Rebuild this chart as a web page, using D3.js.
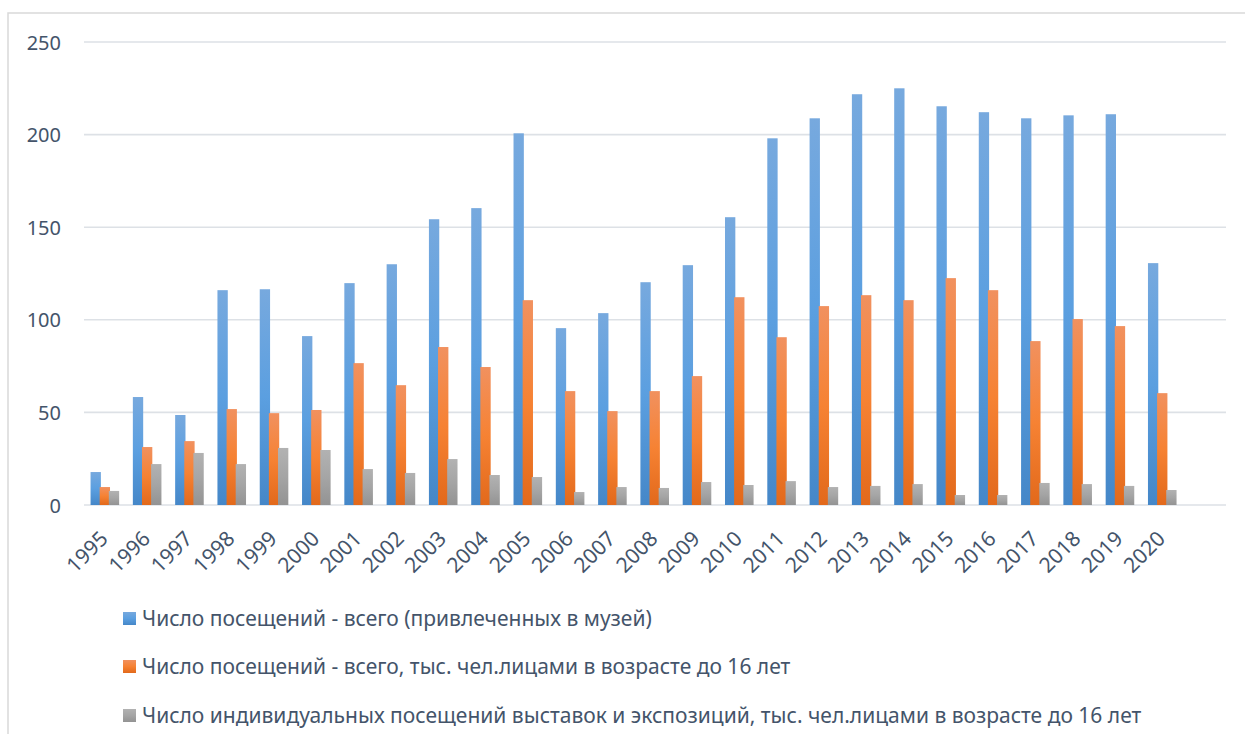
<!DOCTYPE html>
<html>
<head>
<meta charset="utf-8">
<script src="https://cdn.jsdelivr.net/npm/d3@7"></script>
<style>
  html, body { margin: 0; padding: 0; background: #ffffff; }
  svg { display: block; }
  text { font-family: "Noto Sans", sans-serif; fill: #44546a; }
</style>
</head>
<body>
<svg id="chart" width="1245" height="734"></svg>
<script>
// ---- data ----
const years = ["1995","1996","1997","1998","1999","2000","2001","2002","2003","2004","2005","2006","2007",
  "2008","2009","2010","2011","2012","2013","2014","2015","2016","2017","2018","2019","2020"];
const seriesNames = [
  "Число посещений - всего (привлеченных в музей)",
  "Число посещений - всего, тыс. чел.лицами в возрасте до 16 лет",
  "Число индивидуальных посещений выставок и экспозиций, тыс. чел.лицами в возрасте до 16 лет"
];
const totalVisits = [17.8,58.3,48.6,116.0,116.5,91.2,119.8,130.0,154.3,160.3,200.7,95.5,103.6,
  120.3,129.5,155.4,198.0,208.8,221.8,225.0,215.3,212.1,208.8,210.4,211.0,130.6];
const visitsUnder16 = [9.7,31.3,34.5,51.8,49.6,51.3,76.6,64.7,85.3,74.5,110.6,61.5,50.7,
  61.5,69.6,112.2,90.6,107.4,113.3,110.6,122.5,116.0,88.5,100.4,96.6,60.4];
const individualUnder16 = [7.6,22.1,28.1,22.1,30.8,29.7,19.4,17.3,24.8,16.2,15.1,7.0,9.7,
  9.2,12.4,10.8,12.9,9.7,10.3,11.3,5.4,5.4,11.9,11.3,10.3,8.1];
const yTicks = [0,50,100,150,200,250];
// Excel category axis holds one extra empty category after 2020
const extraCategory = [""];

const seriesValues = [totalVisits, visitsUnder16, individualUnder16];
const gradients = [
  ["#77a9de", "#5b9fe0", "#4587c8"],
  ["#f1915f", "#f68233", "#e2691b"],
  ["#b2b2b2", "#a5a5a5", "#939393"]
];

const svg = d3.select("#chart");
const W = 1245, H = 734;
const plot = { left: 84, right: 1226, top: 42, bottom: 505 };

// gradients
const defs = svg.append("defs");
gradients.forEach((g, i) => {
  const lg = defs.append("linearGradient").attr("id", "grad" + i)
    .attr("x1", 0).attr("y1", 0).attr("x2", 0).attr("y2", 1);
  lg.append("stop").attr("offset", "0%").attr("stop-color", g[0]);
  lg.append("stop").attr("offset", "50%").attr("stop-color", g[1]);
  lg.append("stop").attr("offset", "100%").attr("stop-color", g[2]);
});

// chart-area border (only top and left are visible)
svg.append("rect").attr("x", 8).attr("y", 13).attr("width", W + 20).attr("height", H + 20)
  .attr("fill", "none").attr("stroke", "#d9d9d9").attr("stroke-width", 1.5);

const categories = years.concat(extraCategory);
const x0 = d3.scaleBand().domain(categories).range([plot.left, plot.right]).paddingInner(0).paddingOuter(0);
const step = x0.bandwidth();
const groupW = step * 0.69;
const x1 = d3.scaleBand().domain([0,1,2]).range([0, groupW]).padding(0);
const y = d3.scaleLinear().domain([0, 250]).range([plot.bottom, plot.top]);

// gridlines
svg.append("g").selectAll("line").data(yTicks).join("line")
  .attr("x1", plot.left).attr("x2", plot.right)
  .attr("y1", d => y(d)).attr("y2", d => y(d))
  .attr("stroke", "#dde1e6").attr("stroke-width", 1.6);

// y axis labels
const yAxis = d3.axisLeft(y).tickValues(yTicks).tickSize(0).tickPadding(0);
const gy = svg.append("g").attr("transform", `translate(61,0)`).call(yAxis);
gy.select(".domain").remove();
gy.selectAll("text").style("font-family", "'Noto Sans', sans-serif").style("font-size", "20px")
  .attr("fill", "#44546a").attr("dy", "0.35em");

// bars
const groups = svg.append("g").selectAll("g").data(years).join("g")
  .attr("transform", d => `translate(${x0(d) + (step - groupW) / 2},0)`);
groups.selectAll("rect").data((d, i) => seriesValues.map((s, k) => ({ k, v: s[i] }))).join("rect")
  .attr("x", d => x1(d.k) - (d.k > 0 ? 0.6 * d.k : 0))
  .attr("width", x1.bandwidth() + 0.6)
  .attr("y", d => y(d.v))
  .attr("height", d => plot.bottom - y(d.v))
  .attr("fill", d => `url(#grad${d.k})`);

// x axis labels (rotated)
const xAxis = d3.axisBottom(x0).tickSize(0).tickPadding(0);
const gx = svg.append("g").attr("transform", `translate(0,${plot.bottom})`).call(xAxis);
gx.select(".domain").remove();
gx.selectAll(".tick text")
  .style("font-family", "'Noto Sans', sans-serif").style("font-size", "21px")
  .attr("fill", "#44546a")
  .attr("text-anchor", "end")
  .attr("dy", 0).attr("y", 0)
  .attr("transform", "translate(4,35) rotate(-45)");

// legend
const legendRows = [619, 667, 716];
const lg = svg.append("g");
seriesNames.forEach((name, i) => {
  lg.append("rect").attr("x", 123).attr("y", legendRows[i] - 7).attr("width", 13).attr("height", 13)
    .attr("fill", `url(#grad${i})`);
  lg.append("text").attr("x", 142).attr("y", legendRows[i]).attr("dy", "0.35em")
    .style("font-size", "21px").text(name);
});
</script>
</body>
</html>
